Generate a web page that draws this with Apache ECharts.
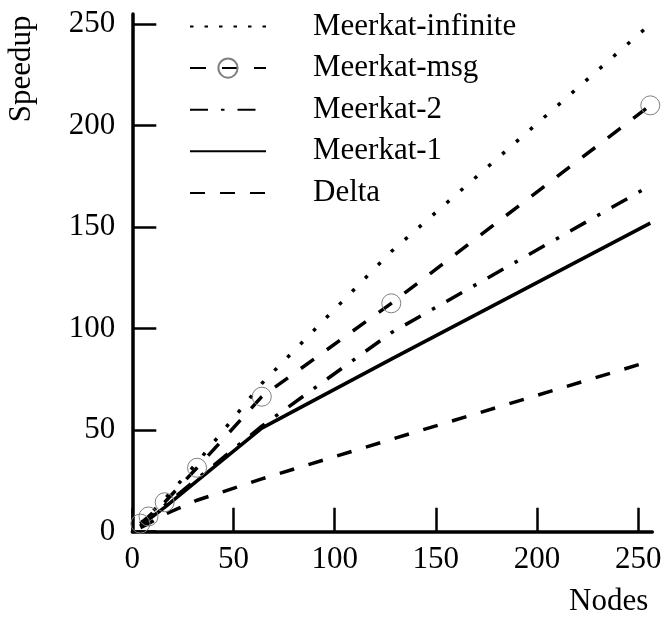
<!DOCTYPE html>
<html>
<head>
<meta charset="utf-8">
<script src="https://cdn.jsdelivr.net/npm/echarts@6/dist/echarts.min.js"></script>
<style>
  html, body { margin: 0; padding: 0; background: #fff; }
  #chart { width: 666px; height: 617px; }
</style>
</head>
<body>
<div id="chart"></div>
<script>
// Speedup versus number of nodes for each configuration
const nodes = [4, 8, 16, 32, 64, 128, 256];
const meerkatInfinite = [4, 8, 16, 34, 73, 138, 250];
const meerkatMsg = [4, 7.5, 14.5, 31.5, 66.5, 112.5, 210];
const meerkat2 = [3, 6.5, 13, 26, 52, 98, 170.5];
const meerkat1 = [2.5, 6, 12, 25, 51, 85, 152];
const delta = [2, 4, 8.5, 15.5, 26, 45.5, 84];
const tickValues = [0, 50, 100, 150, 200, 250];

const FONT = "'Liberation Serif', 'Times New Roman', serif";
const pairs = ys => nodes.map((x, i) => [x, ys[i]]);

function lineSeries(name, ys, type, extra) {
  return Object.assign({
    name: name,
    type: 'line',
    data: pairs(ys),
    symbol: 'none',
    color: '#000',
    lineStyle: { color: '#000', width: 3.5, type: type, cap: 'butt' },
    itemStyle: { color: '#000', opacity: 0 },
    animation: false,
    z: 2
  }, extra || {});
}

const series = [
  lineSeries('Meerkat-infinite', meerkatInfinite, [3.5, 15]),
  lineSeries('Meerkat-msg', meerkatMsg, [16, 16], {
    symbol: 'circle',
    symbolSize: 19,
    showSymbol: true,
    itemStyle: { color: 'rgba(0,0,0,0)', borderColor: '#808080', borderWidth: 1, opacity: 1 }
  }),
  lineSeries('Meerkat-2', meerkat2, [18, 13, 3.5, 13]),
  lineSeries('Meerkat-1', meerkat1, 'solid'),
  lineSeries('Delta', delta, [15, 15])
];

const axisCommon = {
  type: 'value',
  min: 0,
  axisLine: { show: true, lineStyle: { color: '#000', width: 3.5 } },
  axisTick: { show: true, inside: true, length: 24, customValues: tickValues,
              lineStyle: { color: '#000', width: 2.5 } },
  axisLabel: { customValues: tickValues, color: '#000', fontFamily: FONT, fontSize: 31 },
  splitLine: { show: false }
};

const chart = echarts.init(document.getElementById('chart'), null, { renderer: 'canvas' });
chart.setOption({
  backgroundColor: '#fff',
  animation: false,
  grid: { left: 132.3, right: 13.7, top: 14, bottom: 85.3,
          containLabel: false, outerBoundsMode: 'none' },
  xAxis: Object.assign({}, axisCommon, {
    max: 257,
    axisLabel: Object.assign({}, axisCommon.axisLabel, { margin: 13 }),
    name: 'Nodes',
    nameLocation: 'end',
    nameGap: -4,
    nameTextStyle: { color: '#000', fontFamily: FONT, fontSize: 31, align: 'right',
                     verticalAlign: 'top', padding: [55, 0, 0, 0] }
  }),
  yAxis: Object.assign({}, axisCommon, {
    max: 255,
    axisLabel: Object.assign({}, axisCommon.axisLabel, { margin: 17 }),
    name: 'Speedup',
    nameLocation: 'middle',
    nameRotate: 90,
    nameGap: 95,
    nameTextStyle: { color: '#000', fontFamily: FONT, fontSize: 31, padding: [0, 0, 0, 408] }
  }),
  legend: {
    orient: 'vertical',
    left: 189,
    top: 11,
    padding: 0,
    itemWidth: 76,
    itemHeight: 24,
    itemGap: 10.6,
    selectedMode: false,
    textStyle: { color: '#000', fontFamily: FONT, fontSize: 31, lineHeight: 30,
                 padding: [0, 0, 0, 42] },
    data: [
      { name: 'Meerkat-infinite', lineStyle: { type: [3.5, 11] } },
      { name: 'Meerkat-msg' },
      { name: 'Meerkat-2' },
      { name: 'Meerkat-1' },
      { name: 'Delta' }
    ]
  },
  series: series
});
</script>
</body>
</html>
